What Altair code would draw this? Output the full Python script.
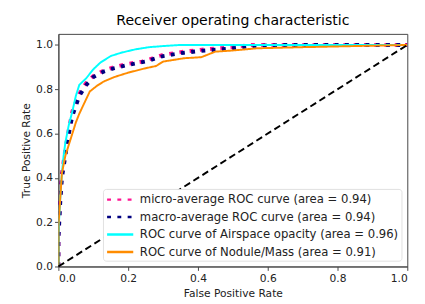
import altair as alt
import pandas as pd

series_names = [
    "micro-average ROC curve (area = 0.94)",
    "macro-average ROC curve (area = 0.94)",
    "ROC curve of Airspace opacity (area = 0.96)",
    "ROC curve of Nodule/Mass (area = 0.91)",
]
series_colors = ["deeppink", "navy", "aqua", "darkorange"]
series_widths = [4, 4, 2, 2]

micro_fpr = [0, 0, 0.005, 0.01, 0.02, 0.03, 0.04, 0.06, 0.08, 0.1, 0.13, 0.16, 0.2, 0.24, 0.27, 0.3, 0.36, 0.42, 0.5, 0.55, 0.65, 0.8, 1.0]
micro_tpr = [0, 0.15, 0.3, 0.42, 0.53, 0.62, 0.7, 0.78, 0.83, 0.86, 0.885, 0.9, 0.915, 0.925, 0.94, 0.955, 0.97, 0.98, 0.99, 1.0, 1.0, 1.0, 1.0]

macro_fpr = [0, 0, 0.005, 0.01, 0.02, 0.03, 0.04, 0.06, 0.08, 0.1, 0.13, 0.16, 0.2, 0.25, 0.3, 0.36, 0.42, 0.5, 0.55, 0.65, 0.8, 1.0]
macro_tpr = [0, 0.12, 0.28, 0.4, 0.5, 0.6, 0.68, 0.77, 0.82, 0.855, 0.88, 0.895, 0.91, 0.925, 0.95, 0.965, 0.975, 0.985, 0.995, 1.0, 1.0, 1.0]

air_fpr = [0, 0, 0.005, 0.01, 0.015, 0.02, 0.03, 0.04, 0.05, 0.06, 0.08, 0.1, 0.12, 0.15, 0.18, 0.22, 0.26, 0.3, 0.35, 0.5, 1.0]
air_tpr = [0, 0.15, 0.3, 0.42, 0.5, 0.56, 0.64, 0.7, 0.77, 0.82, 0.85, 0.89, 0.92, 0.95, 0.965, 0.98, 0.99, 0.995, 1.0, 1.0, 1.0]

nod_fpr = [0, 0, 0.005, 0.01, 0.02, 0.03, 0.04, 0.05, 0.06, 0.075, 0.09, 0.11, 0.13, 0.16, 0.2, 0.25, 0.28, 0.3, 0.36, 0.41, 0.45, 0.5, 0.57, 0.7, 0.85, 1.0]
nod_tpr = [0, 0.18, 0.3, 0.42, 0.5, 0.55, 0.6, 0.65, 0.69, 0.74, 0.79, 0.815, 0.835, 0.855, 0.875, 0.895, 0.905, 0.925, 0.94, 0.945, 0.97, 0.975, 0.985, 0.99, 0.995, 1.0]

diag_x = [0.0, 1.0]
diag_y = [0.0, 1.0]

rows = []
for name, sw, fx, ty in zip(series_names, series_widths,
                            [micro_fpr, macro_fpr, air_fpr, nod_fpr],
                            [micro_tpr, macro_tpr, air_tpr, nod_tpr]):
    for i, (a, b) in enumerate(zip(fx, ty)):
        rows.append({"series": name, "fpr": a, "tpr": b, "idx": i, "sw": sw})
df = pd.DataFrame(rows)
diag = pd.DataFrame({"fpr": diag_x, "tpr": diag_y})

font = "DejaVu Sans"

x_enc = alt.X("fpr:Q", scale=alt.Scale(domain=[0, 1.0], nice=False),
              axis=alt.Axis(title="False Positive Rate", values=[0, 0.2, 0.4, 0.6, 0.8, 1.0], format=".1f"))
y_enc = alt.Y("tpr:Q", scale=alt.Scale(domain=[0, 1.05], nice=False),
              axis=alt.Axis(title="True Positive Rate", values=[0, 0.2, 0.4, 0.6, 0.8, 1.0], format=".1f"))

curves = alt.Chart(df).mark_line(strokeCap="butt", clip=True).encode(
    x=x_enc,
    y=y_enc,
    order="idx:Q",
    color=alt.Color("series:N", scale=alt.Scale(domain=series_names, range=series_colors),
                    legend=alt.Legend(title=None)),
    strokeDash=alt.StrokeDash("series:N", scale=alt.Scale(domain=series_names,
                              range=[[4, 6.6], [4, 6.6], [1, 0], [1, 0]]), legend=alt.Legend(title=None)),
    strokeWidth=alt.StrokeWidth("sw:Q", scale=None, legend=None),
)

diagonal = alt.Chart(diag).mark_line(color="black", strokeDash=[7, 4], strokeWidth=2).encode(
    x="fpr:Q", y="tpr:Q"
)

chart = alt.layer(curves, diagonal).properties(
    width=360, height=240,
    title=alt.TitleParams("Receiver operating characteristic", font=font, fontSize=14.5,
                          fontWeight="normal", color="black", offset=6),
    autosize=alt.AutoSizeParams(type="none"),
    padding={"left": 52, "top": 22, "right": 10, "bottom": 34},
).configure_view(
    stroke="#444444", strokeWidth=1
).configure_axis(
    grid=False, domainColor="#444444", tickColor="#444444", tickSize=4,
    labelFont=font, labelFontSize=11, labelColor="#222222",
    titleFont=font, titleFontSize=11, titleColor="#222222", titleFontWeight="normal",
    labelPadding=2,
).configure_axisX(labelPadding=3, titlePadding=4).configure_axisY(titlePadding=4).configure_legend(
    orient="bottom-right", offset=6, labelFont=font, labelFontSize=12, labelColor="#222222",
    labelLimit=400, symbolType="M-1,0H3", symbolSize=182, symbolStrokeWidth=2.5,
    fillColor="white", strokeColor="#e0e0e0",
    padding=3, cornerRadius=3, rowPadding=4, labelOffset=19,
)

chart.save("out.html", embed_options={"renderer": "svg", "actions": False})
